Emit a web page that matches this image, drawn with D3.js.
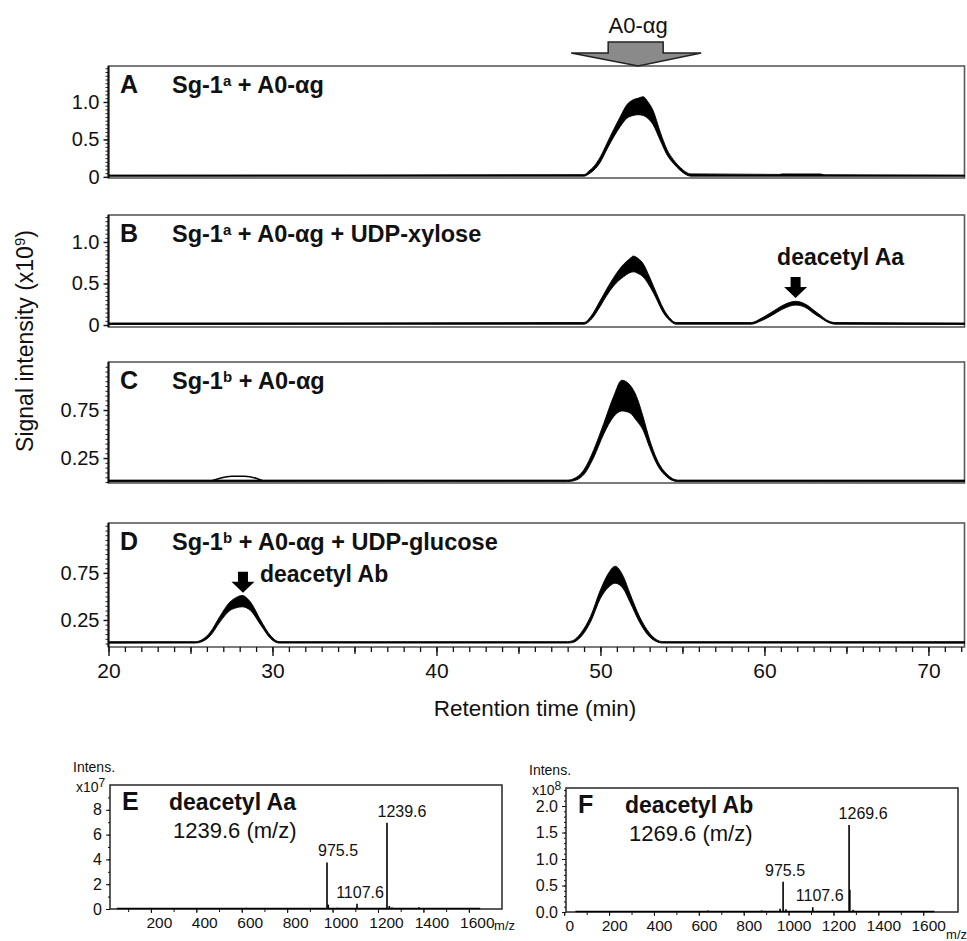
<!DOCTYPE html>
<html>
<head>
<meta charset="utf-8">
<script src="https://cdn.jsdelivr.net/npm/d3@7"></script>
<style>
  body { margin: 0; background: #fff; }
  text { font-family: "Liberation Sans", Arial, sans-serif; fill: #111; }
</style>
</head>
<body>
<div id="chart"></div>
<script>
var svgWidth = 967;
var svgHeight = 941;

// retention time ticks (min)
var rtTicks = [20, 30, 40, 50, 60, 70];

// chromatograms: [time, lower edge, upper edge] of the noisy signal band (x10^9)
var traceA = [
  [20, 0.008, 0.024], [49.0, 0.01, 0.03], [49.3, 0.04, 0.08], [49.6, 0.09, 0.14],
  [50.0, 0.20, 0.27], [50.4, 0.37, 0.45], [50.8, 0.53, 0.63], [51.2, 0.67, 0.80],
  [51.6, 0.78, 0.96], [52.0, 0.82, 1.03], [52.3, 0.83, 1.05], [52.6, 0.82, 1.07],
  [52.9, 0.78, 1.00], [53.2, 0.70, 0.89], [53.66, 0.48, 0.59], [54.07, 0.29, 0.36],
  [54.45, 0.18, 0.23], [54.9, 0.08, 0.12], [55.5, 0.01, 0.04], [72.2, 0.008, 0.024]
];
var traceB = [
  [20, 0.006, 0.024], [49.0, 0.01, 0.03], [49.4, 0.06, 0.10], [50.0, 0.23, 0.30],
  [50.4, 0.36, 0.44], [50.8, 0.47, 0.57], [51.4, 0.58, 0.73], [51.8, 0.63, 0.80],
  [52.0, 0.64, 0.83], [52.3, 0.62, 0.80], [52.6, 0.58, 0.74], [52.9, 0.50, 0.62],
  [53.25, 0.38, 0.46], [53.86, 0.14, 0.19], [54.2, 0.06, 0.09], [54.6, 0.01, 0.03],
  [59.2, 0.01, 0.03], [59.8, 0.05, 0.08], [60.4, 0.11, 0.15], [61.2, 0.20, 0.245],
  [61.9, 0.24, 0.285], [62.6, 0.20, 0.24], [63.0, 0.14, 0.18], [63.4, 0.09, 0.12],
  [63.8, 0.04, 0.06], [64.3, 0.01, 0.03], [72.2, 0.006, 0.024]
];
var traceC = [
  [20, 0.004, 0.02], [48.0, 0.005, 0.02], [48.3, 0.01, 0.03], [49.0, 0.08, 0.13],
  [49.6, 0.26, 0.34], [50.2, 0.50, 0.61], [50.8, 0.68, 0.89], [51.3, 0.74, 1.06],
  [51.8, 0.72, 1.01], [52.2, 0.64, 0.89], [52.6, 0.54, 0.68], [53.0, 0.36, 0.44],
  [53.46, 0.18, 0.23], [54.07, 0.05, 0.08], [54.7, 0.005, 0.02], [72.2, 0.004, 0.02]
];
var traceD = [
  [20, 0.004, 0.02], [25.3, 0.005, 0.02], [25.7, 0.02, 0.04], [26.2, 0.08, 0.12],
  [26.8, 0.23, 0.29], [27.4, 0.35, 0.44], [27.8, 0.38, 0.49], [28.15, 0.39, 0.51],
  [28.66, 0.35, 0.44], [29.27, 0.20, 0.25], [29.9, 0.05, 0.08], [30.4, 0.005, 0.02],
  [48.0, 0.005, 0.02], [48.3, 0.01, 0.03], [48.8, 0.07, 0.11], [49.4, 0.23, 0.29],
  [50.0, 0.48, 0.57], [50.5, 0.60, 0.75], [50.9, 0.64, 0.82], [51.4, 0.58, 0.71],
  [51.8, 0.44, 0.53], [52.4, 0.22, 0.28], [53.0, 0.07, 0.11], [53.8, 0.005, 0.02],
  [72.2, 0.004, 0.02]
];

// small raised bits of baseline: [time, value]
var bumpA = [[60.9, 0.02], [61.1, 0.035], [63.4, 0.035], [63.6, 0.02]];
var bumpC = [[26.3, 0.015], [26.8, 0.04], [27.5, 0.06], [28.3, 0.06], [29.0, 0.04], [29.4, 0.015]];

// y ticks of the chromatograms
var yTicksAB = [0, 0.5, 1.0];
var yLabelsAB = ["0", "0.5", "1.0"];
var yTicksCD = [0.25, 0.75];
var yLabelsCD = ["0.25", "0.75"];

// panel titles: [letter, before superscript, superscript, after]
var titles = [
  ["A", "Sg-1", "a", " + A0-\u03b1g"],
  ["B", "Sg-1", "a", " + A0-\u03b1g + UDP-xylose"],
  ["C", "Sg-1", "b", " + A0-\u03b1g"],
  ["D", "Sg-1", "b", " + A0-\u03b1g + UDP-glucose"]
];

// product arrows: [time, value at arrow tip, label]
var productB = [61.9, 0.325, "deacetyl Aa"];
var productD = [28.2, 0.54, "deacetyl Ab"];
var substrateTime = 52.3;

// mass spectra: [m/z, intensity]
var spectrumE = [
  [975.5, 3.76], [981, 0.35], [1107.6, 0.42], [1239.6, 6.96], [1250, 0.25],
  [1262, 0.12], [1380, 0.15], [620, 0.1], [760, 0.08], [1020, 0.1], [300, 0.06]
];
var spectrumF = [
  [975.5, 0.57], [962, 0.06], [988, 0.05], [1107.6, 0.09], [1269.6, 1.64],
  [1273, 0.42], [1288, 0.04], [880, 0.03], [640, 0.03]
];
var peakLabelsE = [[975.5, "975.5"], [1107.6, "1107.6"], [1239.6, "1239.6"]];
var peakLabelsF = [[975.5, "975.5"], [1107.6, "1107.6"], [1269.6, "1269.6"]];
var yTicksE = [0, 2, 4, 6, 8];
var yTicksF = [0, 0.5, 1.0, 1.5, 2.0];
var mzTicks = [0, 200, 400, 600, 800, 1000, 1200, 1400, 1600];

var svg = d3.select("#chart")
  .append("svg")
  .attr("width", svgWidth)
  .attr("height", svgHeight);

var xRT = d3.scaleLinear().domain([20, 72.2]).range([108.5, 964.5]);

var panels = [
  { top: 66, bottom: 178, yDomain: [-0.015, 1.48], trace: traceA, ticks: yTicksAB, labels: yLabelsAB },
  { top: 215, bottom: 327, yDomain: [-0.024, 1.325], trace: traceB, ticks: yTicksAB, labels: yLabelsAB },
  { top: 362, bottom: 483, yDomain: [-0.01, 1.25], trace: traceC, ticks: yTicksCD, labels: yLabelsCD },
  { top: 523, bottom: 647, yDomain: [-0.037, 1.28], trace: traceD, ticks: yTicksCD, labels: yLabelsCD }
];

panels.forEach(function(p, i) {
  var y = d3.scaleLinear().domain(p.yDomain).range([p.bottom, p.top]);
  p.y = y;
  var g = svg.append("g");

  // frame
  g.append("rect")
    .attr("x", xRT.range()[0])
    .attr("y", p.top)
    .attr("width", xRT.range()[1] - xRT.range()[0])
    .attr("height", p.bottom - p.top)
    .attr("fill", "none")
    .attr("stroke", "#5a5a5a")
    .attr("stroke-width", 1.6);

  // signal band
  var area = d3.area()
    .x(d => xRT(d[0]))
    .y0(d => y(d[1]))
    .y1(d => y(d[2]))
    .curve(d3.curveMonotoneX);

  g.append("path")
    .datum(p.trace)
    .attr("d", area)
    .attr("fill", "#000")
    .attr("stroke", "#000")
    .attr("stroke-width", 0.9);

  // minor y ticks
  var minor = d3.range(0, p.yDomain[1], 0.05);
  g.append("g")
    .attr("transform", `translate(${xRT.range()[0]},0)`)
    .call(d3.axisLeft(y).tickValues(minor).tickSize(3).tickFormat(""))
    .call(a => a.select(".domain").remove())
    .selectAll("line").attr("stroke", "#222");

  // major y ticks
  var yAxis = g.append("g")
    .attr("transform", `translate(${xRT.range()[0]},0)`)
    .call(d3.axisLeft(y).tickValues(p.ticks).tickSize(5).tickPadding(4)
      .tickFormat((d, k) => p.labels[k]));
  yAxis.select(".domain").remove();
  yAxis.selectAll("text").style("font-size", "20px").attr("fill", "#111");
  yAxis.selectAll("line").attr("stroke", "#111").attr("stroke-width", 1.4);

  g.append("line")
    .attr("x1", xRT.range()[0]).attr("x2", xRT.range()[0])
    .attr("y1", p.top).attr("y2", p.bottom)
    .attr("stroke", "#111").attr("stroke-width", 2);

  // title
  var t = titles[i];
  g.append("text")
    .attr("x", 120).attr("y", p.top + 27)
    .style("font-size", "25px").style("font-weight", "bold")
    .text(t[0]);
  var title = g.append("text")
    .attr("x", 172).attr("y", p.top + 27)
    .style("font-size", "23.5px").style("font-weight", "bold");
  title.append("tspan").text(t[1]);
  title.append("tspan").attr("dy", -7).style("font-size", "15px").text(t[2]);
  title.append("tspan").attr("dy", 7).text(t[3]);
});

// baseline bumps
var bumpLine = d3.line().x(d => xRT(d[0])).curve(d3.curveMonotoneX);
svg.append("path")
  .datum(bumpA)
  .attr("d", bumpLine.y(d => panels[0].y(d[1])))
  .attr("fill", "none").attr("stroke", "#000").attr("stroke-width", 1.5);
svg.append("path")
  .datum(bumpC)
  .attr("d", bumpLine.y(d => panels[2].y(d[1])))
  .attr("fill", "none").attr("stroke", "#000").attr("stroke-width", 1.5);

// retention time axis under panel D
var bottomPanel = panels[3];
var xg = svg.append("g")
  .attr("transform", `translate(0,${bottomPanel.bottom})`);
xg.append("g")
  .call(d3.axisBottom(xRT).tickValues(d3.range(20, 73, 1)).tickSize(5).tickFormat(""))
  .call(a => a.select(".domain").remove())
  .selectAll("line").attr("stroke", "#111").attr("stroke-width", 1.3);
xg.append("g")
  .call(d3.axisBottom(xRT).tickValues(d3.range(25, 73, 10)).tickSize(7).tickFormat(""))
  .call(a => a.select(".domain").remove())
  .selectAll("line").attr("stroke", "#111").attr("stroke-width", 1.3);
var xMajor = xg.append("g")
  .call(d3.axisBottom(xRT).tickValues(rtTicks).tickSize(9).tickPadding(7));
xMajor.select(".domain").remove();
xMajor.selectAll("line").attr("stroke", "#111").attr("stroke-width", 1.4);
xMajor.selectAll("text").style("font-size", "21px").attr("fill", "#111");

svg.append("text")
  .attr("x", 535).attr("y", 716)
  .attr("text-anchor", "middle")
  .style("font-size", "22.5px")
  .text("Retention time (min)");

var yLab = svg.append("text")
  .attr("transform", "translate(33,341) rotate(-90)")
  .attr("text-anchor", "middle")
  .style("font-size", "23px");
yLab.append("tspan").text("Signal intensity (x10");
yLab.append("tspan").attr("dy", -8).style("font-size", "15px").text("9");
yLab.append("tspan").attr("dy", 8).text(")");

// substrate arrow above panel A
var sx = xRT(substrateTime);
var aTip = panels[0].top;
svg.append("path")
  .attr("d", `M${sx - 30},${aTip - 24} H${sx + 25} V${aTip - 13} H${sx + 63} L${sx},${aTip}
    L${sx - 67},${aTip - 13} H${sx - 30} Z`)
  .attr("fill", "#8a8a8a")
  .attr("stroke", "#222")
  .attr("stroke-width", 1.5);
svg.append("text")
  .attr("x", sx).attr("y", 33)
  .attr("text-anchor", "middle")
  .style("font-size", "22px")
  .text("A0-\u03b1g");

// product arrows
function productArrow(p, prod, labelDx, labelDy, anchor) {
  var ax = xRT(prod[0]);
  var ay = p.y(prod[1]);
  svg.append("path")
    .attr("d", `M${ax - 5},${ay - 21} H${ax + 5} V${ay - 11} H${ax + 11.5} L${ax},${ay}
      L${ax - 11.5},${ay - 11} H${ax - 5} Z`)
    .attr("fill", "#000");
  svg.append("text")
    .attr("x", ax + labelDx).attr("y", ay + labelDy)
    .attr("text-anchor", anchor)
    .style("font-size", "23px").style("font-weight", "bold")
    .text(prod[2]);
}
productArrow(panels[1], productB, 45, -33, "middle");
productArrow(panels[3], productD, 17, -11, "start");

// mass spectra
function spectrum(cfg) {
  var x = d3.scaleLinear().domain(cfg.xDomain).range([cfg.left, cfg.right]);
  var y = d3.scaleLinear().domain(cfg.yDomain).range([cfg.bottom, cfg.top]);
  var g = svg.append("g");

  g.append("rect")
    .attr("x", cfg.left).attr("y", cfg.top)
    .attr("width", cfg.right - cfg.left).attr("height", cfg.bottom - cfg.top)
    .attr("fill", "none").attr("stroke", "#333").attr("stroke-width", 1.6);

  // baseline
  g.append("line")
    .attr("x1", x(50)).attr("x2", x(1650))
    .attr("y1", y(0) - 0.5).attr("y2", y(0) - 0.5)
    .attr("stroke", "#000").attr("stroke-width", 1.6);

  g.selectAll("line.stick")
    .data(cfg.data)
    .enter()
    .append("line")
    .attr("class", "stick")
    .attr("x1", d => x(d[0])).attr("x2", d => x(d[0]))
    .attr("y1", y(0)).attr("y2", d => y(d[1]))
    .attr("stroke", "#000").attr("stroke-width", 1.6);

  // peak labels
  var top = {};
  cfg.data.forEach(d => { top[d[0]] = d[1]; });
  g.selectAll("text.pk")
    .data(cfg.labels)
    .enter()
    .append("text")
    .attr("class", "pk")
    .attr("x", (d, k) => x(d[0]) + cfg.labelDx[k])
    .attr("y", d => y(top[d[0]]) - 6)
    .attr("text-anchor", "middle")
    .style("font-size", "16px")
    .text(d => d[1]);

  // x ticks
  var minorX = d3.range(0, 1700, 100).filter(v => x(v) >= cfg.left - 4);
  g.append("g")
    .attr("transform", `translate(0,${cfg.bottom})`)
    .call(d3.axisBottom(x).tickValues(minorX).tickSize(3).tickFormat(""))
    .call(a => a.select(".domain").remove())
    .selectAll("line").attr("stroke", "#111");
  var xa = g.append("g")
    .attr("transform", `translate(0,${cfg.bottom})`)
    .call(d3.axisBottom(x).tickValues(cfg.xTicks).tickSize(4).tickPadding(4)
      .tickFormat(d3.format("d")));
  xa.select(".domain").remove();
  xa.selectAll("line").attr("stroke", "#111");
  xa.selectAll("text").attr("dx", cfg.tickDx).style("font-size", "15.5px").attr("fill", "#111");

  // y ticks
  g.append("g")
    .attr("transform", `translate(${cfg.left},0)`)
    .call(d3.axisLeft(y).tickValues(d3.range(0, cfg.yDomain[1], cfg.minorStep)).tickSize(2).tickFormat(""))
    .call(a => a.select(".domain").remove())
    .selectAll("line").attr("stroke", "#111");
  var ya = g.append("g")
    .attr("transform", `translate(${cfg.left},0)`)
    .call(d3.axisLeft(y).tickValues(cfg.yTicks).tickSize(4).tickPadding(4)
      .tickFormat(cfg.yFormat));
  ya.select(".domain").remove();
  ya.selectAll("line").attr("stroke", "#111");
  ya.selectAll("text").style("font-size", "16px").attr("fill", "#111");

  // texts
  g.append("text").attr("x", cfg.left - 37).attr("y", cfg.top - 13)
    .style("font-size", "14px").text("Intens.");
  var ex = g.append("text").attr("x", cfg.left - 34).attr("y", cfg.top + 7)
    .style("font-size", "14px");
  ex.append("tspan").text("x10");
  ex.append("tspan").attr("dy", -5).style("font-size", "12px").text(cfg.exponent);

  g.append("text").attr("x", cfg.right + cfg.mzDx).attr("y", cfg.mzY)
    .attr("text-anchor", "end")
    .style("font-size", "13px").text("m/z");

  g.append("text").attr("x", cfg.left + 12).attr("y", cfg.top + 25)
    .style("font-size", "25px").style("font-weight", "bold").text(cfg.letter);
  g.append("text").attr("x", cfg.left + 59).attr("y", cfg.top + 25)
    .style("font-size", "23px").style("font-weight", "bold").text(cfg.name);
  g.append("text").attr("x", cfg.left + 63).attr("y", cfg.top + 53)
    .style("font-size", "22px").text(cfg.mass);
}

spectrum({
  left: 110, right: 502, top: 785, bottom: 909,
  xDomain: [20, 1746], yDomain: [0, 10.0],
  data: spectrumE, labels: peakLabelsE, labelDx: [11, 3, 15],
  xTicks: mzTicks.slice(1), yTicks: yTicksE, yFormat: d3.format("d"), minorStep: 1,
  exponent: "7", mzY: 930, mzDx: 13, tickDx: 8,
  letter: "E", name: "deacetyl Aa", mass: "1239.6 (m/z)"
});

spectrum({
  left: 566, right: 958, top: 788, bottom: 912,
  xDomain: [8, 1755], yDomain: [0, 2.34],
  data: spectrumF, labels: peakLabelsF, labelDx: [2, 7, 14],
  xTicks: mzTicks, yTicks: yTicksF, yFormat: d3.format(".1f"), minorStep: 0.1,
  exponent: "8", mzY: 939, mzDx: 9, tickDx: 5,
  letter: "F", name: "deacetyl Ab", mass: "1269.6 (m/z)"
});
</script>
</body>
</html>
